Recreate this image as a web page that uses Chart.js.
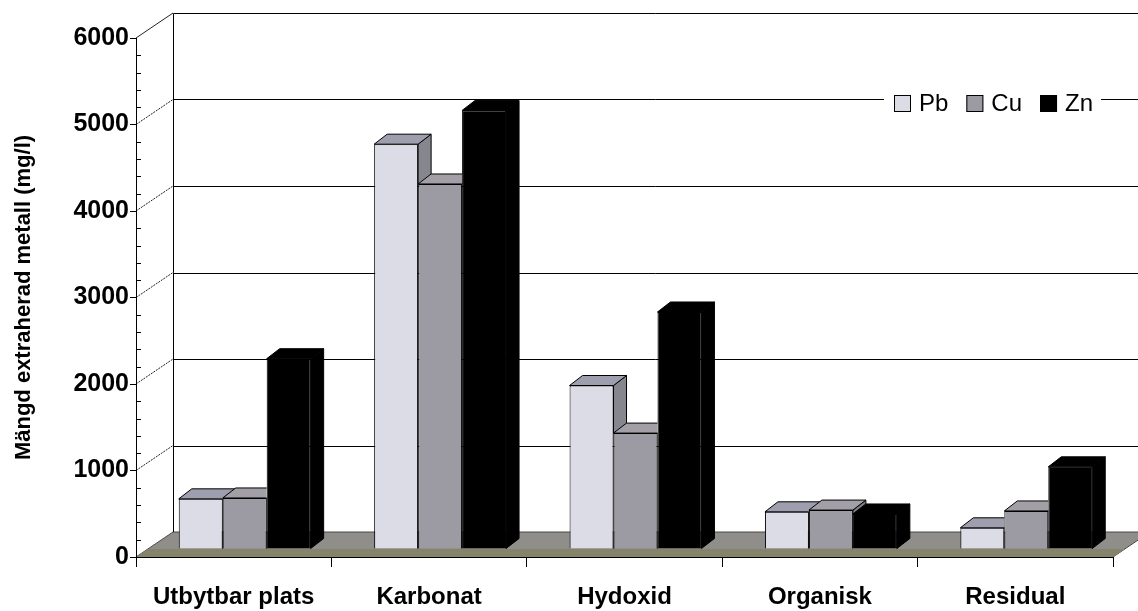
<!DOCTYPE html>
<html>
<head>
<meta charset="utf-8">
<script src="https://cdn.jsdelivr.net/npm/chart.js@4.4.0/dist/chart.umd.min.js"></script>
<style>
  html, body { margin: 0; padding: 0; background: #fff; }
  canvas { display: block; }
</style>
</head>
<body>
<canvas id="chart" width="1138" height="611"></canvas>
<script>
// data
const categories = ['Utbytbar plats', 'Karbonat', 'Hydoxid', 'Organisk', 'Residual'];
const seriesNames = ['Pb', 'Cu', 'Zn'];
const pbValues = [580, 4680, 1890, 430, 245];
const cuValues = [590, 4220, 1340, 450, 440];
const znValues = [2200, 5070, 2740, 405, 950];
const yTitle = 'Mängd extraherad metall (mg/l)';
const yMax = 6000;
const yStep = 1000;
const yMinorStep = 200;

// 3d look
const WALL = { x: 37, y: -25 };     // back wall offset from the front axis
const SHIFT = { x: 11, y: -8 };     // bars stand a bit back on the floor
const BAR_DEPTH = { x: 13, y: -10 };
const FONT = '"Liberation Sans", Arial, sans-serif';

const frontColors = ['#dcdce6', '#9c9aa2', '#000000'];
const topColors = ['#9e9eae', '#a2a0a6', '#000000'];
const sideColors = ['#86868f', '#7b7b82', '#000000'];

const box3d = {
    id: 'box3d',
    beforeDraw(chart) {
        const { ctx, chartArea: a, scales: { y } } = chart;
        const y0 = y.getPixelForValue(0);
        ctx.save();
        // floor slab
        ctx.fillStyle = '#8f8e8a';
        ctx.beginPath();
        ctx.moveTo(a.left, y0);
        ctx.lineTo(a.right, y0);
        ctx.lineTo(a.right + WALL.x, y0 + WALL.y);
        ctx.lineTo(a.left + WALL.x, y0 + WALL.y);
        ctx.closePath();
        ctx.fill();
        ctx.strokeStyle = '#4a4a44';
        ctx.lineWidth = 1;
        ctx.stroke();
        ctx.fillStyle = '#858369';
        ctx.beginPath();
        ctx.moveTo(a.left, y0);
        ctx.lineTo(a.right, y0);
        ctx.lineTo(a.right + 12, y0 - 8);
        ctx.lineTo(a.left + 12, y0 - 8);
        ctx.closePath();
        ctx.fill();
        // back wall grid
        const bx = Math.round(a.left + WALL.x) + 0.5;
        ctx.strokeStyle = '#000';
        ctx.beginPath();
        ctx.moveTo(bx, Math.round(y.getPixelForValue(yMax) + WALL.y) + 0.5);
        ctx.lineTo(bx, y0 + WALL.y);
        for (let v = yStep; v <= yMax; v += yStep) {
            const py = Math.round(y.getPixelForValue(v) + WALL.y) + 0.5;
            ctx.moveTo(bx, py);
            ctx.lineTo(chart.width, py);
        }
        ctx.stroke();
        // connectors from the front axis to the wall, dotted except the top one
        ctx.strokeStyle = '#222';
        for (let v = yStep; v <= yMax; v += yStep) {
            const py = y.getPixelForValue(v);
            ctx.setLineDash(v === yMax ? [] : [2, 1]);
            ctx.beginPath();
            ctx.moveTo(a.left, py);
            ctx.lineTo(a.left + WALL.x, py + WALL.y);
            ctx.stroke();
        }
        ctx.restore();
    },
    beforeDatasetsDraw(chart) {
        chart.ctx.save();
        chart.ctx.translate(SHIFT.x, SHIFT.y);
    },
    afterDatasetsDraw(chart) {
        const ctx = chart.ctx;
        const metas = seriesNames.map((n, i) => chart.getDatasetMeta(i));
        const dx = BAR_DEPTH.x, dy = BAR_DEPTH.y;
        for (let j = 0; j < categories.length; j++) {
            for (let i = 0; i < metas.length; i++) {
                const bar = metas[i].data[j];
                const next = i + 1 < metas.length ? metas[i + 1].data[j] : null;
                const left = bar.x - bar.width / 2;
                const right = bar.x + bar.width / 2;
                const top = bar.y, bottom = bar.base;
                ctx.save();
                if (next) {
                    // the next bar's front hides part of this one
                    ctx.beginPath();
                    ctx.rect(-2000, -2000, right + 2000, 5000);
                    ctx.rect(right, -2000, 5000, next.y + 2000);
                    ctx.clip();
                }
                ctx.lineWidth = 1;
                ctx.strokeStyle = '#000';
                ctx.lineJoin = 'round';
                ctx.fillStyle = sideColors[i];
                ctx.beginPath();
                ctx.moveTo(right, top);
                ctx.lineTo(right + dx, top + dy);
                ctx.lineTo(right + dx, bottom + dy);
                ctx.lineTo(right, bottom);
                ctx.closePath();
                ctx.fill();
                ctx.stroke();
                ctx.fillStyle = topColors[i];
                ctx.beginPath();
                ctx.moveTo(left, top);
                ctx.lineTo(left + dx, top + dy);
                ctx.lineTo(right + dx, top + dy);
                ctx.lineTo(right, top);
                ctx.closePath();
                ctx.fill();
                ctx.stroke();
                ctx.restore();
            }
        }
        ctx.restore();
    },
    afterDraw(chart) {
        const { ctx, chartArea: a, scales: { y } } = chart;
        ctx.save();
        // minor ticks
        ctx.strokeStyle = '#000';
        ctx.lineWidth = 1;
        ctx.beginPath();
        for (let v = yMinorStep; v < yMax; v += yMinorStep) {
            if (v % yStep === 0) continue;
            const py = Math.round(y.getPixelForValue(v)) + 0.5;
            ctx.moveTo(a.left, py);
            ctx.lineTo(a.left + 5, py);
        }
        ctx.stroke();
        // legend on top of the 5000 wall line
        ctx.font = '24px ' + FONT;
        ctx.textBaseline = 'middle';
        let x = 884;
        const cy = 103;
        const widths = seriesNames.map(n => ctx.measureText(n).width);
        const total = seriesNames.reduce((s, n, i) => s + 17 + 8 + widths[i] + (i < 2 ? 18 : 0), 0);
        ctx.fillStyle = '#fff';
        ctx.fillRect(x, cy - 13, total + 18, 26);
        x += 10;
        seriesNames.forEach((name, i) => {
            ctx.fillStyle = frontColors[i];
            ctx.fillRect(x, cy - 8, 17, 17);
            ctx.strokeStyle = '#000';
            ctx.strokeRect(x + 0.5, cy - 7.5, 16, 16);
            ctx.fillStyle = '#000';
            ctx.fillText(name, x + 25, cy + 1);
            x += 17 + 8 + widths[i] + 18;
        });
        ctx.restore();
    }
};

const ctx = document.getElementById('chart').getContext('2d');
new Chart(ctx, {
    type: 'bar',
    data: {
        labels: categories,
        datasets: [pbValues, cuValues, znValues].map((values, i) => ({
            label: seriesNames[i],
            data: values,
            backgroundColor: frontColors[i],
            borderColor: '#000',
            borderWidth: 1,
            categoryPercentage: 0.675,
            barPercentage: 1.0
        }))
    },
    options: {
        responsive: false,
        animation: false,
        devicePixelRatio: 1,
        layout: { padding: { top: 38, right: 25, bottom: 0, left: 0 } },
        plugins: {
            legend: { display: false },
            tooltip: { enabled: false }
        },
        datasets: { bar: { clip: false } },
        scales: {
            x: {
                offset: true,
                grid: { offset: true, drawOnChartArea: false, drawTicks: true, tickLength: 10, color: '#000' },
                border: { display: true, color: '#000', width: 1 },
                ticks: {
                    color: '#000',
                    font: { family: FONT, size: 24, weight: 'bold' },
                    padding: 16,
                    maxRotation: 0,
                    autoSkip: false
                },
                afterFit(scale) { scale.height = 54; }
            },
            y: {
                min: 0,
                max: yMax,
                grid: { drawOnChartArea: false, drawTicks: true, tickLength: 6, color: '#000' },
                border: { display: true, color: '#000', width: 1 },
                ticks: {
                    stepSize: yStep,
                    color: '#000',
                    padding: 1,
                    font: { family: FONT, size: 25, weight: 'bold' },
                    callback: v => String(v)
                },
                title: {
                    display: true,
                    text: yTitle,
                    color: '#000',
                    font: { family: FONT, size: 22, weight: 'bold' },
                    padding: { top: 11, bottom: 0 }
                },
                afterFit(scale) { scale.width = 136; }
            }
        }
    },
    plugins: [box3d]
});
</script>
</body>
</html>
